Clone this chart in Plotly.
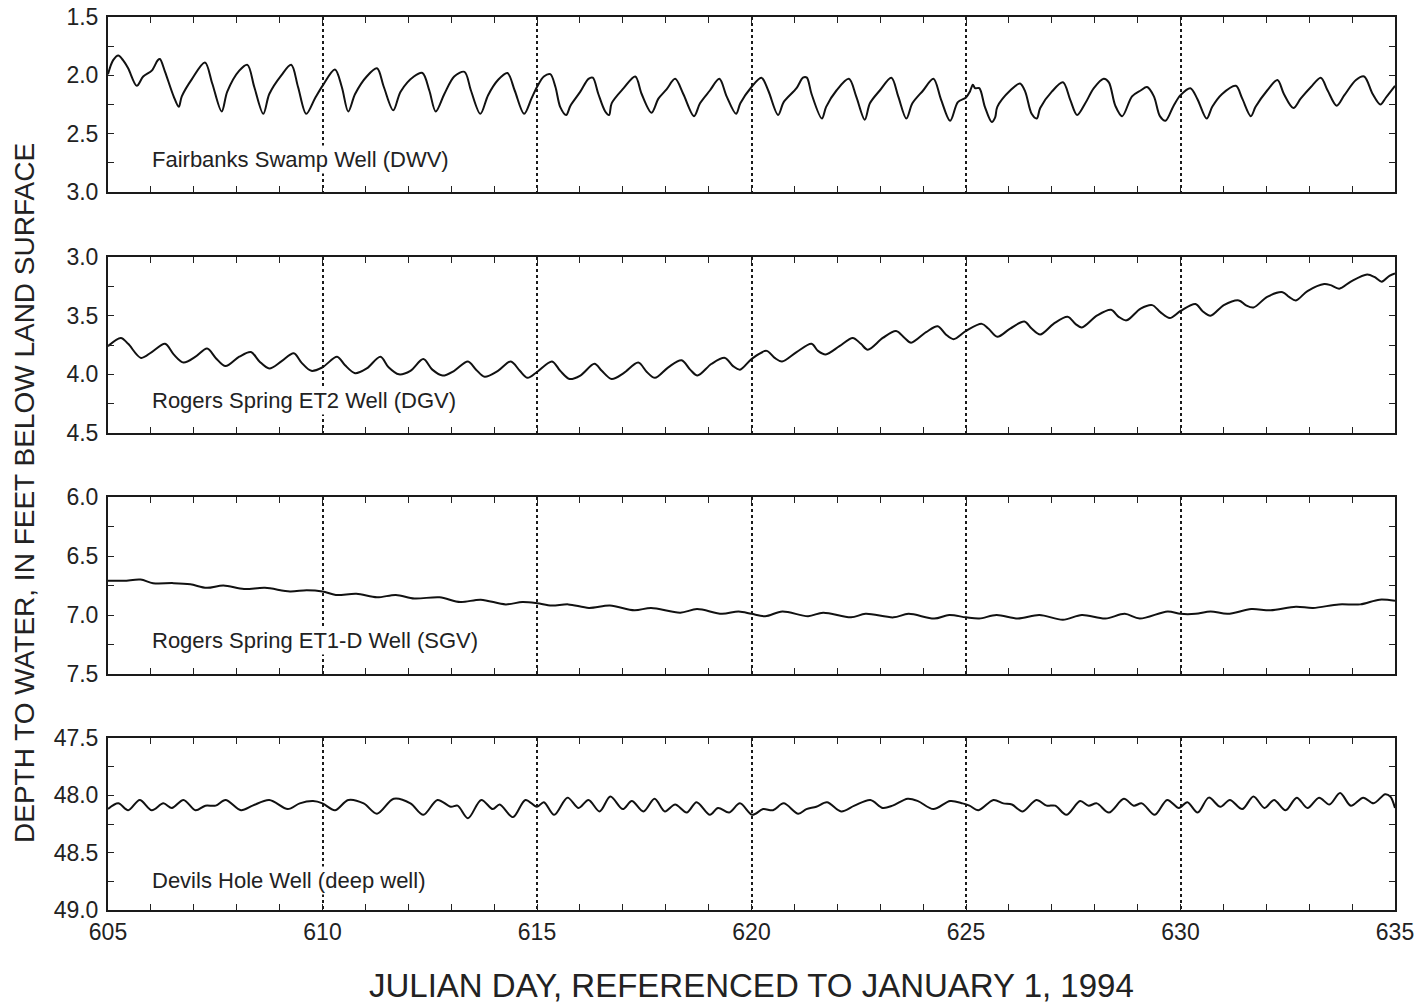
import plotly.graph_objects as go
from plotly.subplots import make_subplots

# ---------------- data ----------------
fair_day = [605.0, 605.12, 605.24, 605.35, 605.47, 605.67, 605.82, 606.02, 606.16, 606.21, 606.33, 606.53, 606.65, 606.72, 606.96,
            607.26, 607.43, 607.65, 607.78, 608.06, 608.25, 608.41, 608.62, 608.76, 609.04, 609.27, 609.43, 609.62, 609.82, 610.0,
            610.29, 610.45, 610.60, 610.76, 611.03, 611.27, 611.43, 611.65, 611.82, 612.13, 612.33, 612.49, 612.64, 612.84, 613.07,
            613.31, 613.46, 613.68, 613.86, 614.09, 614.31, 614.48, 614.70, 614.87, 615.0,
            615.16, 615.31, 615.43, 615.54, 615.68, 615.78, 616.01, 616.20, 616.30, 616.43, 616.59, 616.68, 616.74, 617.02,
            617.29, 617.44, 617.67, 617.83, 618.02, 618.22, 618.41, 618.66, 618.80, 619.03, 619.25, 619.42, 619.64, 619.74,
            620.0, 620.23, 620.39, 620.62, 620.75, 621.05, 621.20, 621.29, 621.40, 621.64, 621.74, 621.98, 622.27, 622.44,
            622.64, 622.76, 622.99, 623.26, 623.42, 623.61, 623.75, 624.00, 624.24, 624.42, 624.63, 624.81, 625.0,
            625.09, 625.16, 625.21, 625.31, 625.44, 625.60, 625.68, 625.73, 626.03, 626.26, 626.38, 626.53, 626.65, 626.73,
            627.0, 627.26, 627.43, 627.59, 627.78, 627.98, 628.21, 628.33, 628.48, 628.64, 628.87, 629.07, 629.22, 629.38,
            629.52, 629.65, 629.84, 630.0, 630.23, 630.39, 630.61, 630.74, 630.97, 631.29, 631.44, 631.64, 631.75, 632.02,
            632.26, 632.41, 632.63, 632.80, 633.04, 633.27, 633.43, 633.64, 633.82, 634.09, 634.28, 634.48, 634.66, 634.79, 635.0]
fair_depth = [1.99, 1.87, 1.83, 1.87, 1.94, 2.09, 2.01, 1.96, 1.87, 1.86, 1.97, 2.18, 2.27, 2.18, 2.03,
              1.89, 2.07, 2.31, 2.14, 1.96, 1.91, 2.10, 2.33, 2.16, 2.00, 1.91, 2.10, 2.33, 2.20, 2.09,
              1.95, 2.10, 2.31, 2.16, 2.01, 1.94, 2.10, 2.30, 2.14, 2.01, 1.98, 2.13, 2.31, 2.16, 2.01,
              1.97, 2.13, 2.33, 2.17, 2.04, 1.98, 2.13, 2.33, 2.20, 2.10,
              2.01, 1.99, 2.10, 2.27, 2.34, 2.26, 2.14, 2.03, 2.02, 2.16, 2.31, 2.34, 2.24, 2.11,
              2.01, 2.16, 2.32, 2.20, 2.12, 2.03, 2.16, 2.35, 2.24, 2.13, 2.03, 2.18, 2.33, 2.24,
              2.10, 2.02, 2.13, 2.34, 2.23, 2.11, 2.02, 2.02, 2.16, 2.37, 2.27, 2.13, 2.03, 2.18,
              2.38, 2.24, 2.13, 2.02, 2.18, 2.37, 2.24, 2.13, 2.03, 2.21, 2.39, 2.23, 2.19,
              2.14, 2.08, 2.11, 2.11, 2.27, 2.40, 2.36, 2.27, 2.13, 2.07, 2.14, 2.33, 2.37, 2.28,
              2.14, 2.06, 2.21, 2.34, 2.24, 2.11, 2.03, 2.06, 2.26, 2.35, 2.18, 2.13, 2.10, 2.18,
              2.35, 2.39, 2.26, 2.17, 2.11, 2.20, 2.37, 2.27, 2.16, 2.09, 2.20, 2.35, 2.27, 2.13,
              2.04, 2.16, 2.28, 2.20, 2.10, 2.02, 2.13, 2.26, 2.17, 2.04, 2.01, 2.16, 2.25, 2.19, 2.09]

et2_day = [605.0, 605.30, 605.47, 605.77, 606.02, 606.33, 606.53, 606.76, 607.04, 607.31, 607.51, 607.74, 608.06, 608.33,
           608.53, 608.76, 609.04, 609.33, 609.51, 609.74, 610.0, 610.34, 610.52, 610.76, 611.03, 611.35, 611.54, 611.78,
           612.05, 612.35, 612.56, 612.80, 613.07, 613.39, 613.58, 613.78, 614.09, 614.39, 614.60, 614.78, 615.0,
           615.35, 615.54, 615.76, 616.01, 616.34, 616.51, 616.74, 617.02, 617.36, 617.56, 617.75, 618.06, 618.37, 618.57,
           618.74, 619.07, 619.38, 619.57, 619.73, 620.0, 620.35, 620.54, 620.71, 621.05, 621.40, 621.55, 621.73, 622.05,
           622.36, 622.55, 622.71, 623.06, 623.37, 623.57, 623.72, 624.07, 624.34, 624.53, 624.71, 625.0,
           625.37, 625.52, 625.73, 626.03, 626.36, 626.53, 626.73, 627.04, 627.37, 627.55, 627.70, 628.05, 628.38, 628.56,
           628.74, 629.07, 629.34, 629.53, 629.75, 630.0, 630.35, 630.51, 630.70, 631.01, 631.36, 631.52, 631.70, 632.02,
           632.38, 632.53, 632.69, 632.96, 633.35, 633.50, 633.70, 633.97, 634.35, 634.52, 634.69, 634.87, 635.0]
et2_depth = [3.76, 3.69, 3.74, 3.86, 3.81, 3.74, 3.83, 3.90, 3.85, 3.78, 3.86, 3.93, 3.85, 3.81,
             3.89, 3.95, 3.89, 3.82, 3.90, 3.97, 3.94, 3.85, 3.92, 3.99, 3.95, 3.85, 3.94, 4.00,
             3.97, 3.87, 3.96, 4.01, 3.97, 3.89, 3.96, 4.02, 3.97, 3.89, 3.97, 4.03, 3.98,
             3.89, 3.97, 4.04, 4.01, 3.91, 3.97, 4.04, 3.99, 3.90, 3.98, 4.03, 3.94, 3.88, 3.96,
             4.01, 3.91, 3.86, 3.93, 3.96, 3.87, 3.80, 3.86, 3.89, 3.81, 3.74, 3.80, 3.83, 3.76,
             3.69, 3.74, 3.79, 3.69, 3.63, 3.69, 3.73, 3.64, 3.59, 3.66, 3.70, 3.63,
             3.57, 3.61, 3.68, 3.61, 3.55, 3.61, 3.66, 3.57, 3.51, 3.57, 3.60, 3.50, 3.45, 3.51,
             3.54, 3.44, 3.41, 3.47, 3.52, 3.46, 3.40, 3.46, 3.50, 3.41, 3.37, 3.41, 3.43, 3.34,
             3.30, 3.34, 3.37, 3.29, 3.23, 3.24, 3.27, 3.21, 3.15, 3.17, 3.21, 3.16, 3.14]

et1_day = [605.0, 605.37, 605.76, 606.05, 606.53, 606.92, 607.30, 607.69, 608.17, 608.66, 609.24, 609.63, 610.0,
           610.31, 610.79, 611.27, 611.71, 612.14, 612.73, 613.21, 613.69, 614.27, 614.66, 615.0, 615.34, 615.73,
           616.21, 616.70, 617.27, 617.66, 618.34, 618.73, 619.31, 619.70, 620.0, 620.32, 620.72, 621.32, 621.67,
           622.32, 622.66, 623.31, 623.66, 624.26, 624.61, 625.0, 625.31, 625.71, 626.21, 626.71, 627.26, 627.70,
           628.25, 628.70, 629.05, 629.70, 630.0, 630.35, 630.70, 631.10, 631.65, 632.10, 632.69, 633.09, 633.69,
           634.19, 634.64, 635.0]
et1_depth = [6.71, 6.71, 6.70, 6.73, 6.73, 6.74, 6.77, 6.75, 6.78, 6.77, 6.80, 6.79, 6.80,
             6.83, 6.82, 6.85, 6.83, 6.86, 6.85, 6.89, 6.87, 6.91, 6.89, 6.90, 6.92, 6.91,
             6.94, 6.92, 6.96, 6.94, 6.98, 6.95, 6.99, 6.97, 6.99, 7.01, 6.97, 7.01, 6.98,
             7.02, 6.99, 7.02, 6.99, 7.03, 7.00, 7.02, 7.03, 7.00, 7.03, 7.00, 7.04, 7.00,
             7.03, 6.99, 7.03, 6.97, 6.99, 6.99, 6.97, 6.99, 6.95, 6.96, 6.93, 6.94, 6.91,
             6.91, 6.87, 6.88]

dh_day = [605.0, 605.24, 605.47, 605.74, 606.02, 606.29, 606.49, 606.76, 607.04, 607.27, 607.51, 607.74, 608.10, 608.37,
          608.76, 609.19, 609.47, 609.78, 610.0, 610.29, 610.60, 610.96, 611.27, 611.66, 612.05, 612.35, 612.68, 612.99,
          613.15, 613.39, 613.70, 613.97, 614.13, 614.44, 614.73, 615.0,
          615.16, 615.40, 615.71, 615.97, 616.20, 616.46, 616.71, 617.00, 617.21, 617.48, 617.74, 617.98, 618.22, 618.49,
          618.72, 619.03, 619.22, 619.48, 619.73, 620.02, 620.27, 620.50, 620.75, 621.09, 621.28, 621.51, 621.76, 622.09,
          622.40, 622.77, 623.06, 623.29, 623.64, 623.88, 624.24, 624.63, 624.92,
          625.08, 625.29, 625.64, 625.87, 626.07, 626.32, 626.64, 626.88, 627.08, 627.34, 627.66, 627.86, 628.05, 628.33,
          628.68, 628.91, 629.10, 629.40, 629.69, 629.96, 630.16, 630.40, 630.66, 630.93, 631.15, 631.44, 631.70, 631.96,
          632.18, 632.45, 632.71, 632.96, 633.23, 633.47, 633.72, 633.97, 634.26, 634.50, 634.77, 634.89, 635.0]
dh_depth = [48.12, 48.07, 48.13, 48.04, 48.13, 48.07, 48.11, 48.04, 48.13, 48.09, 48.09, 48.04, 48.13, 48.09,
            48.04, 48.12, 48.07, 48.05, 48.07, 48.13, 48.04, 48.07, 48.16, 48.03, 48.07, 48.17, 48.04, 48.10,
            48.09, 48.20, 48.04, 48.12, 48.08, 48.19, 48.04, 48.10,
            48.06, 48.17, 48.02, 48.11, 48.04, 48.14, 48.01, 48.12, 48.05, 48.14, 48.03, 48.14, 48.08, 48.15,
            48.06, 48.17, 48.11, 48.15, 48.07, 48.17, 48.12, 48.13, 48.07, 48.16, 48.12, 48.10, 48.06, 48.14,
            48.09, 48.04, 48.11, 48.09, 48.03, 48.05, 48.12, 48.05, 48.07,
            48.09, 48.13, 48.04, 48.07, 48.08, 48.14, 48.04, 48.09, 48.09, 48.17, 48.05, 48.09, 48.07, 48.15,
            48.03, 48.09, 48.07, 48.17, 48.04, 48.11, 48.06, 48.15, 48.02, 48.10, 48.04, 48.12, 48.01, 48.11,
            48.04, 48.13, 48.02, 48.11, 48.02, 48.08, 47.98, 48.09, 48.02, 48.07, 47.99, 48.01, 48.11]

well_names = ["Fairbanks Swamp Well (DWV)", "Rogers Spring ET2 Well (DGV)",
              "Rogers Spring ET1-D Well (SGV)", "Devils Hole Well (deep well)"]
y_ranges = [(1.5, 3.0), (3.0, 4.5), (6.0, 7.5), (47.5, 49.0)]
label_depth = [2.72, 4.22, 7.22, 48.74]
x_ticks = [605, 610, 615, 620, 625, 630, 635]

series = [(fair_day, fair_depth), (et2_day, et2_depth), (et1_day, et1_depth), (dh_day, dh_depth)]

# ---------------- figure ----------------
FONT = "Liberation Sans, Arial, Helvetica, sans-serif"
W, H = 1414, 1004
ml, mr, mt, mb = 108, 19, 17, 94
ph = H - mt - mb

def frac(py):
    return (H - mb - py) / ph

domains = [(frac(192), 1.0), (frac(433), frac(257)), (frac(674), frac(497)), (0.0, frac(738))]

fig = make_subplots(rows=4, cols=1, shared_xaxes=False)

for i, (xd, yd) in enumerate(series):
    r = i + 1
    fig.add_trace(go.Scatter(x=xd, y=yd, mode="lines",
                             line=dict(color="#111111", width=2, shape="spline", smoothing=0.9),
                             showlegend=False, hoverinfo="skip"), row=r, col=1)
    lo, hi = y_ranges[i]
    fig.update_yaxes(row=r, col=1, range=[hi, lo], domain=list(domains[i]), automargin=False,
                     tickmode="array", tickvals=[lo, lo + 0.5, lo + 1.0, hi],
                     ticktext=[f"{v:.1f}" for v in (lo, lo + 0.5, lo + 1.0, hi)],
                     ticks="inside", ticklen=6, tickwidth=1.2, tickcolor="#222",
                     minor=dict(tickmode="array", tickvals=[lo + 0.25, lo + 0.75, lo + 1.25],
                                ticks="inside", ticklen=6, tickcolor="#222", showgrid=False),
                     showline=True, linecolor="#1a1a1a", linewidth=2, mirror="ticks",
                     showgrid=False, zeroline=False, ticklabelstandoff=3,
                     ticklabeloverflow="allow",
                     tickfont=dict(family=FONT, size=23, color="#222"))
    fig.update_xaxes(row=r, col=1, range=[605, 635], automargin=False,
                     tickmode="array", tickvals=x_ticks,
                     ticktext=[str(t) for t in x_ticks] if r == 4 else [""] * len(x_ticks),
                     ticks="inside", ticklen=6, tickwidth=1.2, tickcolor="#222",
                     minor=dict(tickmode="linear", tick0=605, dtick=1, ticks="inside",
                                ticklen=6, tickcolor="#222", showgrid=False),
                     showline=True, linecolor="#1a1a1a", linewidth=2, mirror="ticks",
                     showgrid=True, gridcolor="#1a1a1a", gridwidth=1.5, griddash="3px,3px",
                     zeroline=False, ticklabeloverflow="allow",
                     tickfont=dict(family=FONT, size=23, color="#222"))
    fig.add_annotation(x=605.97, y=label_depth[i], xref=f"x{'' if r == 1 else r}",
                       yref=f"y{'' if r == 1 else r}", text=well_names[i], showarrow=False,
                       xanchor="left", yanchor="middle", bgcolor="white", borderpad=1,
                       font=dict(family=FONT, size=22, color="#222"))

fig.add_annotation(x=(25 - ml) / (W - ml - mr), y=frac(493), xref="paper", yref="paper",
                   xanchor="center", yanchor="middle",
                   text="DEPTH TO WATER, IN FEET BELOW LAND SURFACE", textangle=-90,
                   showarrow=False, font=dict(family=FONT, size=28, color="#222"))
fig.add_annotation(x=0.5, y=frac(985), xref="paper", yref="paper",
                   xanchor="center", yanchor="middle",
                   text="JULIAN DAY, REFERENCED TO JANUARY 1, 1994",
                   showarrow=False, font=dict(family=FONT, size=33, color="#222"))

fig.update_layout(width=W, height=H, margin=dict(l=ml, r=mr, t=mt, b=mb, autoexpand=False),
                  plot_bgcolor="white", paper_bgcolor="white", showlegend=False)

fig.write_html("out.html")
